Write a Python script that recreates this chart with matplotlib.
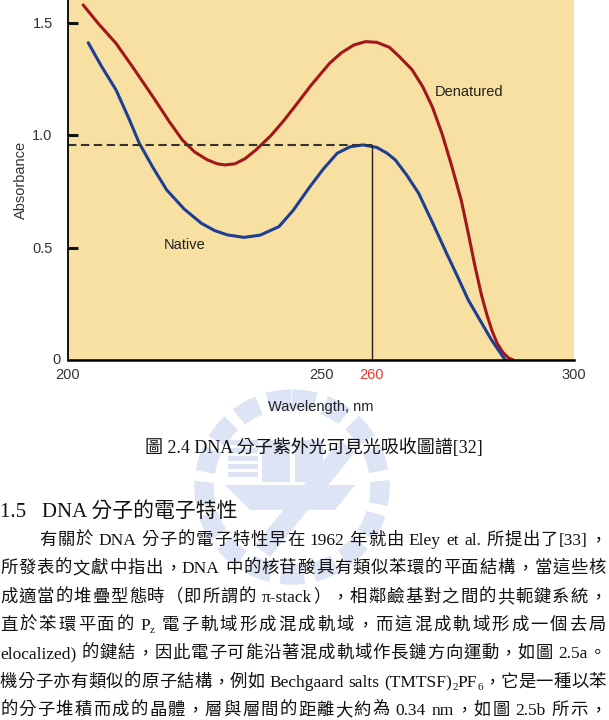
import numpy as np
import matplotlib
matplotlib.use("Agg")
import matplotlib.pyplot as plt
from matplotlib.patches import Circle, Rectangle, Polygon

# UV absorbance of DNA
denat_wl = [203.0, 206.0, 209.5, 213.0, 217.2, 220.0, 222.6, 225.0, 227.5, 229.5,
            231.0, 233.0, 235.0, 237.1, 240.0, 242.5, 244.8, 248.0, 251.7, 254.0,
            256.5, 258.8, 261.0, 263.5, 265.5, 268.0, 270.1, 272.0, 273.9, 275.8,
            277.7, 279.0, 280.4, 281.7, 282.8, 283.8, 284.8, 285.9, 287.0, 288.0]
denat_abs = [1.578, 1.495, 1.407, 1.295, 1.156, 1.060, 0.978, 0.925, 0.890, 0.872,
             0.867, 0.872, 0.895, 0.933, 0.995, 1.060, 1.126, 1.220, 1.319, 1.365,
             1.400, 1.415, 1.412, 1.390, 1.348, 1.290, 1.215, 1.125, 1.007, 0.865,
             0.711, 0.575, 0.420, 0.290, 0.200, 0.130, 0.075, 0.035, 0.010, 0.0]
native_wl = [204.0, 206.5, 209.5, 212.0, 214.1, 216.8, 219.5, 223.0, 226.4, 229.0,
             231.5, 234.8, 238.0, 241.7, 244.5, 247.8, 250.5, 253.2, 255.8, 258.3,
             261.0, 263.0, 264.7, 267.0, 269.3, 272.4, 274.7, 277.0, 279.1, 281.4,
             283.7, 286.4]
native_abs = [1.410, 1.310, 1.200, 1.075, 0.963, 0.855, 0.756, 0.670, 0.607, 0.575,
              0.556, 0.545, 0.555, 0.593, 0.665, 0.770, 0.850, 0.919, 0.948, 0.956,
              0.945, 0.920, 0.889, 0.820, 0.741, 0.593, 0.480, 0.370, 0.267, 0.178,
              0.089, 0.0]
peak_wl = 260
peak_abs = 0.956

xtick_vals = [200, 250, 260, 300]
ytick_vals = [0.5, 1.0, 1.5]

caption = "圖 2.4 DNA 分子紫外光可見光吸收圖譜[32]"
heading = "1.5   DNA 分子的電子特性"
# each line is a list of (text, is_subscript)
para = [
    [("有關於 DNA 分子的電子特性早在 1962 年就由 Eley et al. 所提出了[33]，", False)],
    [("所發表的文獻中指出，DNA 中的核苷酸具有類似苯環的平面結構，當這些核", False)],
    [("成適當的堆疊型態時（即所謂的 π-stack），相鄰鹼基對之間的共軛鍵系統，", False)],
    [("直於苯環平面的 P", False), ("z", True), (" 電子軌域形成混成軌域，而這混成軌域形成一個去局", False)],
    [("elocalized) 的鍵結，因此電子可能沿著混成軌域作長鏈方向運動，如圖 2.5a。", False)],
    [("機分子亦有類似的原子結構，例如 Bechgaard salts (TMTSF)", False), ("2", True),
     ("PF", False), ("6", True), ("，它是一種以苯", False)],
    [("的分子堆積而成的晶體，層與層間的距離大約為 0.34 nm，如圖 2.5b 所示，", False)],
]

W, H = 609, 720
sans = ["Liberation Sans Narrow", "Liberation Sans", "DejaVu Sans"]
serif_cjk = ["Liberation Serif", "Noto Sans CJK TC", "DejaVu Sans"]

fig = plt.figure(figsize=(W / 100, H / 100), dpi=100)
fig.patch.set_facecolor("white")

# faint watermark emblem behind the text (shapes only)
wm = fig.add_axes([0, 0, 1, 1], zorder=0)
wm.set_xlim(0, W)
wm.set_ylim(H, 0)
wm.axis("off")
wm_col = "#DCE4F5"
wm.add_patch(Circle((292, 487), 88, fill=False, lw=14, ec=wm_col,
                    linestyle=(0, (1.2, 0.5))))
for k in range(5):
    wm.add_patch(Rectangle((228, 440 + k * 8), 30, 5, color=wm_col, lw=0))
wm.add_patch(Rectangle((262, 440), 28, 42, color=wm_col, lw=0))
wm.add_patch(Rectangle((295, 440), 28, 42, color=wm_col, lw=0))
wm.add_patch(Polygon([(225, 485), (355, 485), (335, 510), (250, 510)], color=wm_col, lw=0))
wm.add_patch(Polygon([(255, 545), (340, 440), (355, 452), (270, 557)], color=wm_col, lw=0))

ax = fig.add_axes([68 / W, 0.5, (574 - 68) / W, 0.5], zorder=1)
ax.set_facecolor("#F7E0A2")
ax.set_xlim(200, 300)
ax.set_ylim(0, 1.6)

ax.plot(denat_wl, denat_abs, color="#A3161A", lw=2.2, solid_capstyle="round")
ax.plot(native_wl, native_abs, color="#1C3F94", lw=2.2, solid_capstyle="round")
ax.plot([200, peak_wl], [peak_abs, peak_abs], color="#333333", lw=1.5, dashes=(4, 2.2))
ax.plot([peak_wl, peak_wl], [0, peak_abs], color="#222222", lw=1.0)

for s in ["top", "right"]:
    ax.spines[s].set_visible(False)
ax.spines["left"].set_linewidth(1.3)
ax.spines["bottom"].set_linewidth(1.8)

ax.set_yticks(ytick_vals)
ax.set_yticklabels(["0.5", "1.0", "1.5"], family=sans, fontsize=10.5, color="#333333")
ax.tick_params(axis="y", direction="in", length=7, width=2.2, pad=11, color="#111111")
ax.set_xticks(xtick_vals)
ax.set_xticklabels([str(v) for v in xtick_vals], family=sans, fontsize=10.5, color="#333333")
ax.get_xticklabels()[2].set_color("#E8372F")
ax.tick_params(axis="x", length=0, pad=6)
ax.set_xticks([250], minor=True)
ax.tick_params(axis="x", which="minor", direction="in", length=10, width=1.5, color="#111111")
ax.annotate("0", (200, 0), xytext=(-8, 0), textcoords="offset points", ha="center",
            va="center", family=sans, fontsize=10.5, color="#333333", annotation_clip=False)

ax.set_xlabel("Wavelength, nm", family=sans, fontsize=10.5, color="#222222", labelpad=13)
ax.set_ylabel("Absorbance", family=sans, fontsize=10.5, color="#333333", labelpad=3)
ax.text(279.2, 1.19, "Denatured", family=sans, fontsize=10.5, ha="center", va="center", color="#222222")
ax.text(223, 0.51, "Native", family=sans, fontsize=10.5, ha="center", va="center", color="#222222")

# text of the scanned page below the chart
fig.text(314 / W, 1 - 448 / H, caption, family=serif_cjk, fontsize=13,
         ha="center", va="center", color="#111111", zorder=2)
fig.text(0 / W, 1 - 512 / H, heading, family=serif_cjk, fontsize=15,
         ha="left", va="center", color="#111111", zorder=2)


def is_cjk(c):
    return ord(c) >= 0x2E80 or c in "，。（）"


def split_tokens(runs):
    # tokens: (text, is_sub, spaces_before)
    toks = []
    for txt, sub in runs:
        if sub:
            toks.append((txt, True, 0))
            continue
        buf, sp = "", 0
        for c in txt:
            if c == " ":
                if buf:
                    toks.append((buf, False, sp))
                    buf, sp = "", 0
                sp += 1
            elif is_cjk(c):
                if buf:
                    toks.append((buf, False, sp))
                    buf, sp = "", 0
                toks.append((c, False, sp))
                sp = 0
            else:
                buf += c
        if buf:
            toks.append((buf, False, sp))
    return toks


# justified paragraph lines, like the scanned page
renderer = fig.canvas.get_renderer()
line_y = [540, 568, 597, 625, 653, 682, 710]
space_w = 4.5
right_edge = 606
for i, runs in enumerate(para):
    x0 = 39 if i == 0 else 0
    base = line_y[i] + 5
    toks = split_tokens(runs)
    objs, widths, gapped = [], [], []
    prev_sub = False
    for j, (txt, sub, sp) in enumerate(toks):
        t = fig.text(0, 1 - (base + (3 if sub else 0)) / H, txt, family=serif_cjk,
                     fontsize=8 if sub else 12.5, ha="left", va="baseline",
                     color="#111111", zorder=2)
        objs.append(t)
        widths.append(t.get_window_extent(renderer).width)
        gapped.append(j > 0 and not sub and not (prev_sub and sp == 0))
        prev_sub = sub
    natural = sum(widths) + space_w * sum(tk[2] for tk in toks)
    gap = max((right_edge - x0 - natural) / max(sum(gapped), 1), 0)
    x = x0
    for t, w, g, tk in zip(objs, widths, gapped, toks):
        x += tk[2] * space_w + (gap if g else 0)
        t.set_x(x / W)
        x += w

fig.savefig("out.png", dpi=100)
